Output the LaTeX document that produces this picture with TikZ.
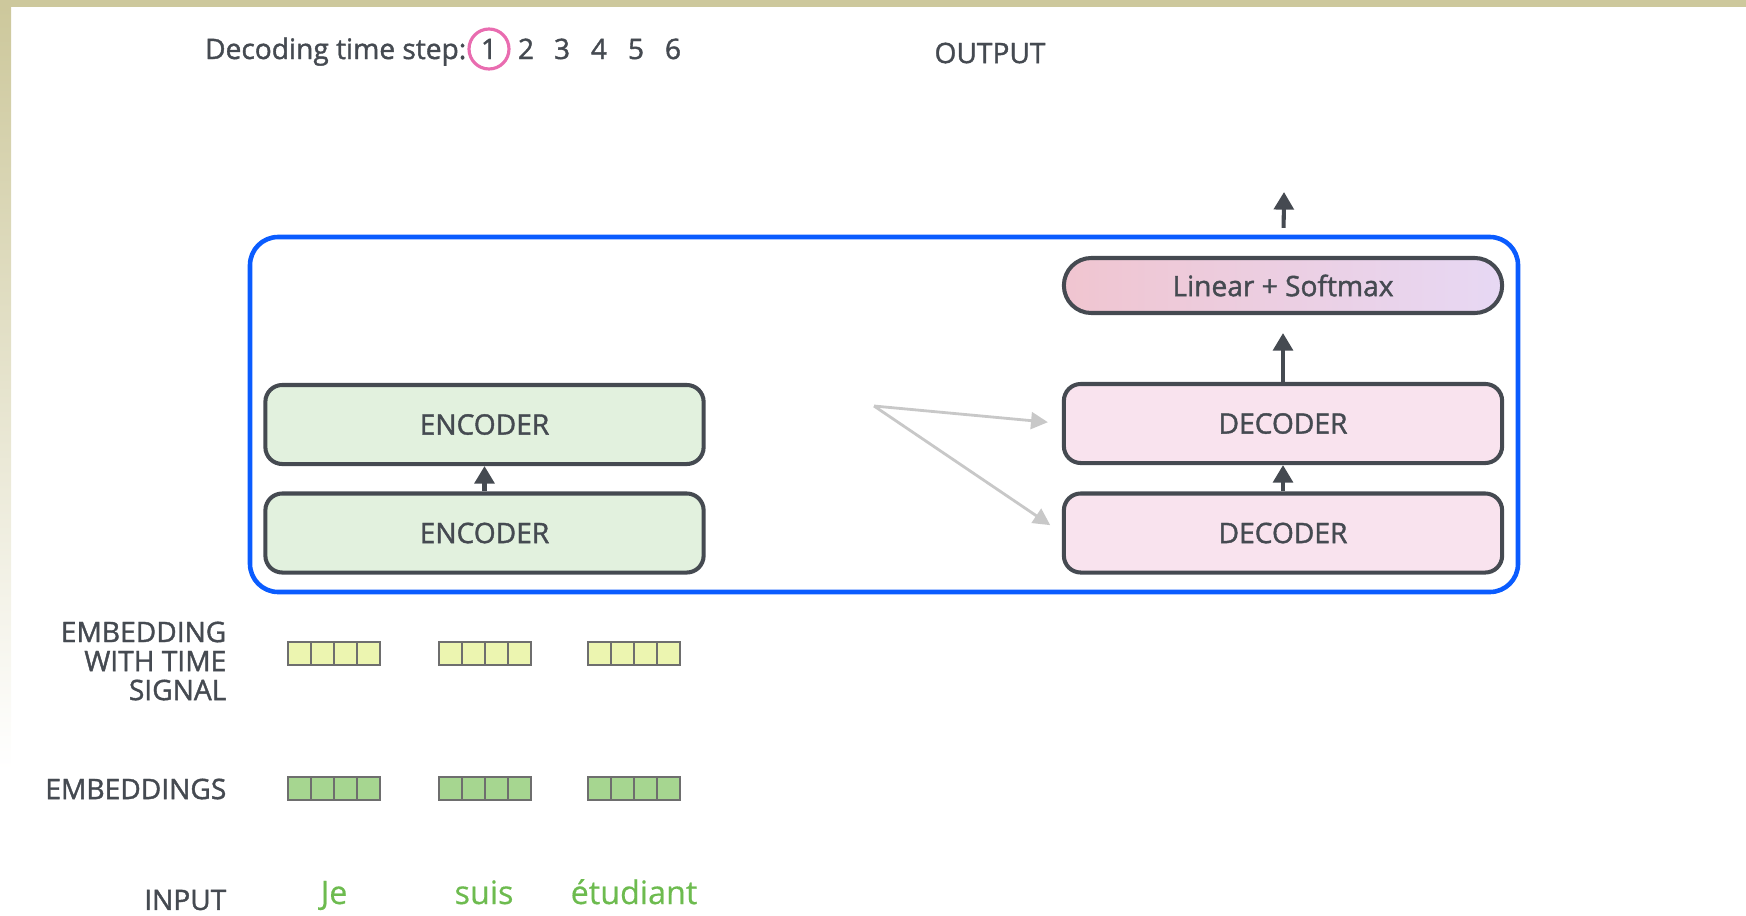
\documentclass[tikz,border=0pt]{standalone}
\usepackage{fontspec}
\setsansfont{Open Sans}[FakeBold=1.4]
\usetikzlibrary{arrows.meta}
\definecolor{inkgray}{HTML}{454A51}
\definecolor{slidebeige}{HTML}{CDC89C}
\definecolor{modelblue}{HTML}{0A5CFF}
\definecolor{encfill}{HTML}{E2F1DE}
\definecolor{decfill}{HTML}{F9E3EE}
\definecolor{softleft}{HTML}{F0C5D0}
\definecolor{softright}{HTML}{E7D8F4}
\definecolor{timeyellow}{HTML}{ECF5B0}
\definecolor{embgreen}{HTML}{A6D690}
\definecolor{cellgray}{HTML}{6E6E6E}
\definecolor{wordgreen}{HTML}{6DBB4F}
\definecolor{steppink}{HTML}{E96CB0}
\definecolor{linkgray}{HTML}{C8C8C8}

\begin{document}
\begin{tikzpicture}[x=0.01cm,y=-0.01cm,font=\sffamily\fontsize{8}{8.25}\selectfont,text=inkgray,
  block/.style={draw=inkgray,line width=1.15pt,rounded corners=4.8pt,minimum width=4.38cm,minimum height=0.79cm,inner sep=0pt},
  uparrow/.style={draw=inkgray,line width=1.15pt,-{Triangle[length=5pt,width=5.6pt]}},
  linkarrow/.style={draw=linkgray,line width=0.8pt,-{Triangle[length=4.8pt,width=4.8pt]},shorten >=0.14cm},
  cellbox/.style={draw=cellgray,line width=0.55pt},
  rowlabel/.style={anchor=east,align=right,inner sep=0pt},
  word/.style={anchor=base,text=wordgreen,font=\sffamily\addfontfeature{FakeBold=0.4}\fontsize{9.2}{10}\selectfont}]
\useasboundingbox (0,0) rectangle (1746,915);
\fill[slidebeige] (0,0) rectangle (1746,7);
\shade[top color=slidebeige,bottom color=white] (0,7) rectangle (11,770);

% decoding time steps
\node[anchor=base east,inner sep=0pt] (steplabel) at (467,59) {Decoding time step:};
\foreach \n/\x in {1/489,2/526,3/562,4/599,5/636,6/673}
  \node[anchor=base] (t\n) at (\x,59) {\n};
\draw[steppink,line width=0.9pt] (489,49) circle [radius=20];
\node (outlabel) at (990,53) {OUTPUT};

% model
\draw[modelblue,line width=1.3pt,rounded corners=8pt] (250,237) rectangle (1518,592);
\node[block,fill=encfill] (enc2) at (484.5,424.5) {ENCODER};
\node[block,fill=encfill] (enc1) at (484.5,533) {ENCODER};
\node[block,fill=decfill] (dec2) at (1283,423.5) {DECODER};
\node[block,fill=decfill] (dec1) at (1283,533) {DECODER};
\node[block,left color=softleft,right color=softright,rounded corners=7.8pt,minimum height=0.55cm] (linear) at (1283,285.5) {Linear + Softmax};
\coordinate (memory) at (874,406);
\coordinate (output) at (1284,192);

\draw[uparrow] (enc1) -- (enc2);
\draw[uparrow] (dec1) -- (dec2);
\draw[uparrow,shorten >=0.18cm] (dec2) -- (linear);
\draw[uparrow,shorten <=0.28cm] (linear) -- (output);
\draw[linkarrow] (memory) -- (dec2.west);
\draw[linkarrow] (memory) -- (dec1.west);

% embeddings
\foreach \x in {288,439,588}
  \foreach \i in {0,...,3}{
    \draw[cellbox,fill=timeyellow] (\x+23*\i,642) rectangle ++(23,23);
    \draw[cellbox,fill=embgreen] (\x+23*\i,777) rectangle ++(23,23);
  }
\node[rowlabel] (timelabel) at (227,661) {EMBEDDING\\WITH TIME\\SIGNAL};
\node[rowlabel] (emblabel) at (227,789) {EMBEDDINGS};
\node[rowlabel] (inlabel) at (227,900) {INPUT};
\node[word] (je) at (334,904) {Je};
\node[word] (suis) at (484,904) {suis};
\node[word] (etudiant) at (634,904) {étudiant};
\end{tikzpicture}
\end{document}
